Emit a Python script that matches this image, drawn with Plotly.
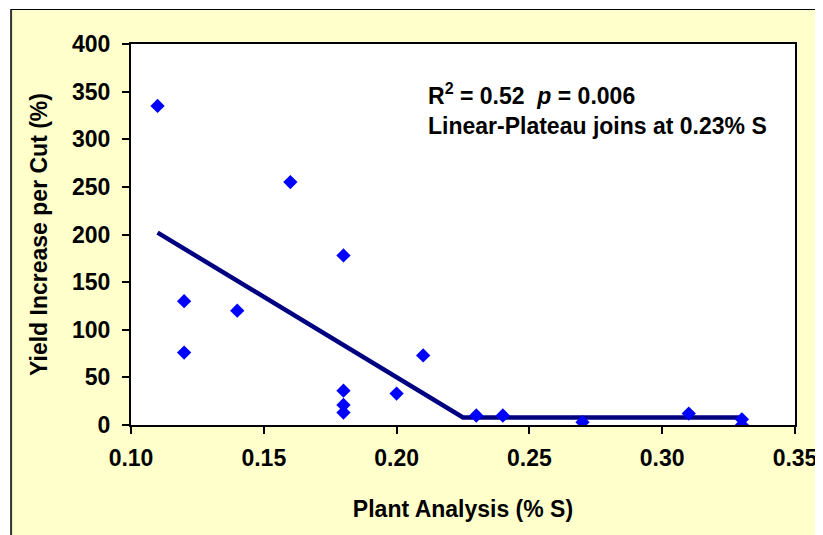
import plotly.graph_objects as go

# Observed data: plant S concentration vs yield increase
plant_s = [0.11, 0.12, 0.12, 0.14, 0.16, 0.18, 0.18, 0.18, 0.18, 0.20, 0.21,
           0.23, 0.24, 0.27, 0.31, 0.33, 0.33]
yield_inc = [335, 130, 76, 120, 255, 178, 36, 21, 13, 33, 73,
             10, 10, 3, 12, 6, 0]

# Linear-plateau fit line
fit_x = [0.11, 0.225, 0.33]
fit_y = [202, 8, 8]

x_ticks = [0.10, 0.15, 0.20, 0.25, 0.30, 0.35]
y_ticks = [0, 50, 100, 150, 200, 250, 300, 350, 400]

# page has an 8px body margin; figure coordinates are screen - 8
W, H = 823, 535
ML, MT = 123, 36
MR = W - 787.5
MB = H - 417
PW = W - ML - MR
PH = H - MT - MB

def px2x(px):
    return (px - ML) / PW

def py2y(py):
    return (H - MB - py) / PH

FONT = "Liberation Sans, Arial, sans-serif"
FS = 23

fig = go.Figure()
fig.add_trace(go.Scatter(
    x=fit_x, y=fit_y, mode="lines",
    line=dict(color="#000080", width=4.5),
    showlegend=False, hoverinfo="skip"))
fig.add_trace(go.Scatter(
    x=plant_s, y=yield_inc, mode="markers",
    marker=dict(symbol="diamond", size=11, color="#0000FF", line=dict(width=0)),
    showlegend=False))

fig.update_layout(
    width=W, height=H,
    margin=dict(l=ML, r=MR, t=MT, b=MB, pad=0),
    paper_bgcolor="#FFFFCC",
    plot_bgcolor="white",
    font=dict(family=FONT, size=FS, color="black"),
    xaxis=dict(
        range=[0.10, 0.35], tickvals=x_ticks,
        ticktext=[f"{v:.2f}" for v in x_ticks],
        tickfont=dict(size=FS, weight="bold"),
        ticks="outside", ticklen=7, tickwidth=1.5, tickcolor="black",
        ticklabelstandoff=4,
        showline=True, linecolor="black", linewidth=2, mirror=True,
        showgrid=False, zeroline=False,
        title=dict(text="Plant Analysis (% S)", standoff=31,
                   font=dict(size=FS, weight="bold")),
    ),
    yaxis=dict(
        range=[0, 400], tickvals=y_ticks,
        ticktext=[f"{v}" for v in y_ticks],
        tickfont=dict(size=FS, weight="bold"),
        ticks="outside", ticklen=7, tickwidth=1.5, tickcolor="black",
        ticklabelstandoff=7,
        showline=True, linecolor="black", linewidth=2, mirror=True,
        showgrid=False, zeroline=False,
        title=dict(text="Yield Increase per Cut (%)", standoff=18,
                   font=dict(size=FS, weight="bold")),
    ),
    annotations=[dict(
        xref="paper", yref="paper", x=px2x(418), y=py2y(69),
        xanchor="left", yanchor="top", align="left", showarrow=False,
        text="R<sup>2</sup> = 0.52\u00a0\u00a0<i>p</i> = 0.006<br>"
             "Linear-Plateau joins at 0.23% S",
        font=dict(size=FS, color="black", weight="bold"),
    )],
    shapes=[
        dict(type="rect", xref="paper", yref="paper", layer="above",
             x0=px2x(-10), x1=px2x(3), y0=py2y(-10), y1=py2y(H + 10),
             fillcolor="white", line=dict(width=0)),
        dict(type="rect", xref="paper", yref="paper", layer="above",
             x0=px2x(-10), x1=px2x(W + 10), y0=py2y(-10), y1=py2y(1),
             fillcolor="white", line=dict(width=0)),
        dict(type="line", xref="paper", yref="paper", layer="above",
             x0=px2x(3), x1=px2x(3), y0=py2y(1), y1=py2y(H + 10),
             line=dict(color="#333333", width=2)),
        dict(type="line", xref="paper", yref="paper", layer="above",
             x0=px2x(3), x1=px2x(W + 10), y0=py2y(1.5), y1=py2y(1.5),
             line=dict(color="black", width=1)),
    ],
)

fig.write_html("out.html")
